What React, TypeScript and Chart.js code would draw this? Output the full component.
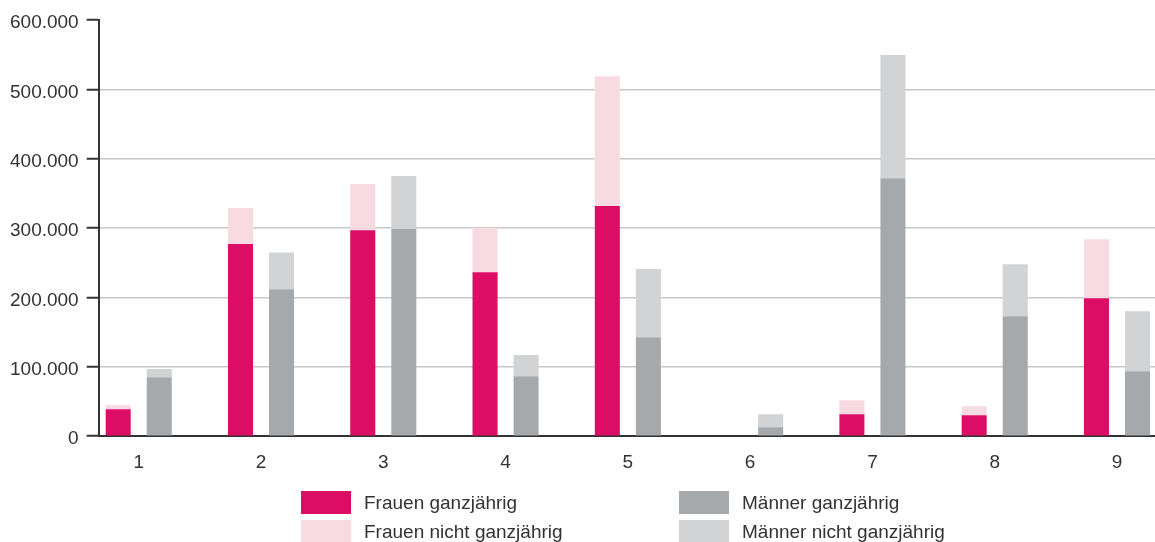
import React, { useEffect, useRef } from "react";
import { Chart, registerables } from "chart.js";

Chart.register(...registerables);

const categories = ["1", "2", "3", "4", "5", "6", "7", "8", "9"];
const frauenGanz = [39000, 277000, 297000, 236500, 332000, 0, 31700, 30300, 199000];
const frauenNicht = [6000, 52000, 66500, 64000, 187000, 0, 20300, 12700, 85000];
const maennerGanz = [85000, 212000, 298600, 86500, 142800, 13000, 372000, 173000, 93800];
const maennerNicht = [12000, 53000, 76400, 30500, 98200, 18700, 177500, 75000, 86200];
const yTicks = [0, 100000, 200000, 300000, 400000, 500000, 600000];

const seriesLabels = ["Frauen ganzjährig", "Frauen nicht ganzjährig", "Männer ganzjährig", "Männer nicht ganzjährig"];
const seriesColors = ["#dc0d64", "#f8dbe2", "#a6a9ac", "#d2d3d5"];

const FONT = "'Liberation Sans', Arial, sans-serif";

function fmt(v: number): string {
  return String(Math.round(v)).replace(/\B(?=(\d{3})+(?!\d))/g, ".");
}

export default function App() {
  const ref = useRef<HTMLCanvasElement | null>(null);

  useEffect(() => {
    if (!ref.current) return;
    const data = [frauenGanz, frauenNicht, maennerGanz, maennerNicht];
    const stacks = ["F", "F", "M", "M"];
    const chart = new Chart(ref.current, {
      type: "bar",
      data: {
        labels: categories,
        datasets: data.map((d, i) => ({
          label: seriesLabels[i],
          data: d,
          backgroundColor: seriesColors[i],
          borderWidth: 0,
          stack: stacks[i],
          categoryPercentage: 0.6714,
          barPercentage: 0.61,
        })),
      },
      options: {
        responsive: false,
        animation: false,
        devicePixelRatio: 1,
        layout: { padding: { top: 20, left: 2, right: 0, bottom: 9 } },
        plugins: {
          legend: { display: false },
          tooltip: { enabled: false },
        },
        font: { family: FONT, size: 19 },
        scales: {
          x: {
            type: "linear",
            min: 0.6725,
            max: 9.311,
            stacked: true,
            offset: false,
            afterBuildTicks: (scale: any) => {
              scale.ticks = categories.map((c) => ({ value: Number(c) }));
            },
            grid: { display: false, drawTicks: false },
            border: { display: true, color: "#333", width: 2 },
            ticks: {
              color: "#333",
              padding: 15,
              font: { family: FONT, size: 19 },
              autoSkip: false,
              maxRotation: 0,
              callback: (v: any) => String(v),
            },
          },
          y: {
            stacked: true,
            min: 0,
            max: 600000,
            afterBuildTicks: (scale: any) => {
              scale.ticks = yTicks.map((v) => ({ value: v }));
            },
            grid: {
              color: (ctx: any) => (ctx.tick && ctx.tick.value === 600000 ? "rgba(0,0,0,0)" : "#c8c8c8"),
              lineWidth: 1.5,
              tickColor: "#333",
              tickLength: 12,
              tickWidth: 2,
            },
            border: { display: true, color: "#333", width: 2 },
            ticks: {
              color: "#333",
              padding: 8,
              labelOffset: 3,
              font: { family: FONT, size: 19 },
              callback: (v: any) => fmt(Number(v)),
            },
          },
        },
      } as any,
    });
    return () => chart.destroy();
  }, []);

  const legendPos = [
    { left: 301, top: 491 },
    { left: 301, top: 520 },
    { left: 679, top: 491 },
    { left: 679, top: 520 },
  ];

  return (
    <div style={{ position: "absolute", left: 0, top: 0, width: 1155, height: 542, overflow: "hidden", background: "#fff" }}>
      <canvas ref={ref} width={1155} height={498} style={{ display: "block", width: 1155, height: 498 }} />
      {seriesLabels.map((lab, i) => (
        <div
          key={lab}
          style={{
            position: "absolute",
            left: legendPos[i].left,
            top: legendPos[i].top,
            height: 23,
            display: "flex",
            alignItems: "flex-start",
            fontFamily: FONT,
            fontSize: 19,
            lineHeight: "23px",
            color: "#333",
            whiteSpace: "nowrap",
          }}
        >
          <span style={{ display: "inline-block", width: 50, height: 23, background: seriesColors[i], marginRight: 13 }} />
          <span>{lab}</span>
        </div>
      ))}
    </div>
  );
}
